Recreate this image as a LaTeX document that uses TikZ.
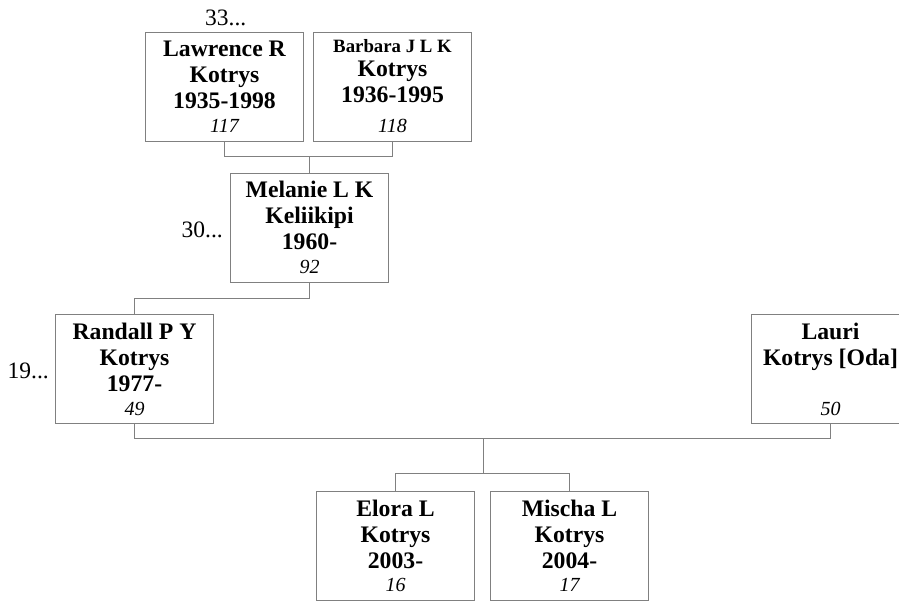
\documentclass[tikz,border=0pt]{standalone}
\usepackage{fontspec}
\setmainfont{Liberation Serif}
\definecolor{linegray}{RGB}{128,128,128}
\tikzset{
  box/.style={draw=linegray, line width=1pt, fill=white, rectangle, inner sep=0pt, minimum width=158pt, minimum height=109pt},
  conn/.style={draw=linegray, line width=1pt},
  nm/.style={inner sep=0pt, anchor=base, font=\bfseries\fontsize{23.7}{26}\selectfont},
  nmsmall/.style={inner sep=0pt, anchor=base, font=\bfseries\fontsize{18.8}{22}\selectfont},
  num/.style={inner sep=0pt, anchor=base, font=\itshape\fontsize{20}{24}\selectfont},
  gen/.style={inner sep=0pt, anchor=base, font=\fontsize{23.5}{26}\selectfont}
}
\begin{document}
\begin{tikzpicture}[x=1pt,y=-1pt]
\useasboundingbox (0,0) rectangle (899,601);
\fill[white] (0,0) rectangle (899,601);

% boxes
\node[box] (law) at (224.5,87) {};
\node[box] (bar) at (392.5,87) {};
\node[box] (mel) at (309.5,228) {};
\node[box] (ran) at (134.5,369) {};
\node[box] (lau) at (830.5,369) {};
\node[box] (elo) at (395.5,546) {};
\node[box] (mis) at (569.5,546) {};

% connectors
\coordinate (c1) at (309.5,156.5);
\coordinate (c2) at (309.5,298.5);
\coordinate (c3) at (483.5,438.5);
\coordinate (c4) at (483.5,473.5);
\draw[conn] (law.south) |- (c1) -| (bar.south);
\draw[conn] (c1) -- (mel.north);
\draw[conn] (mel.south) -- (c2) -| (ran.north);
\draw[conn] (ran.south) |- (c3) -| (lau.south);
\draw[conn] (c3) -- (c4);
\draw[conn] (c4) -| (elo.north);
\draw[conn] (c4) -| (mis.north);

% Lawrence
\node[nm] (law1) at ([yshift=-25pt]law.north) {Lawrence R};
\node[nm] (law2) at ([yshift=-51pt]law.north) {Kotrys};
\node[nm] (law3) at ([yshift=-77pt]law.north) {1935-1998};
\node[num] (law4) at ([yshift=-101pt]law.north) {117};
% Barbara
\node[nmsmall] (bar1) at ([yshift=-21pt]bar.north) {Barbara J L K};
\node[nm] (bar2) at ([yshift=-45pt]bar.north) {Kotrys};
\node[nm] (bar3) at ([yshift=-71pt]bar.north) {1936-1995};
\node[num] (bar4) at ([yshift=-101pt]bar.north) {118};
% Melanie
\node[nm] (mel1) at ([yshift=-25pt]mel.north) {Melanie L K};
\node[nm] (mel2) at ([yshift=-51pt]mel.north) {Keliikipi};
\node[nm] (mel3) at ([yshift=-77pt]mel.north) {1960-};
\node[num] (mel4) at ([yshift=-101pt]mel.north) {92};
% Randall
\node[nm] (ran1) at ([yshift=-25pt]ran.north) {Randall P Y};
\node[nm] (ran2) at ([yshift=-51pt]ran.north) {Kotrys};
\node[nm] (ran3) at ([yshift=-77pt]ran.north) {1977-};
\node[num] (ran4) at ([yshift=-101pt]ran.north) {49};
% Lauri
\node[nm] (lau1) at ([yshift=-25pt]lau.north) {Lauri};
\node[nm] (lau2) at ([yshift=-51pt]lau.north) {Kotrys [Oda]};
\node[num] (lau4) at ([yshift=-101pt]lau.north) {50};
% Elora
\node[nm] (elo1) at ([yshift=-25pt]elo.north) {Elora L};
\node[nm] (elo2) at ([yshift=-51pt]elo.north) {Kotrys};
\node[nm] (elo3) at ([yshift=-77pt]elo.north) {2003-};
\node[num] (elo4) at ([yshift=-100pt]elo.north) {16};
% Mischa
\node[nm] (mis1) at ([yshift=-25pt]mis.north) {Mischa L};
\node[nm] (mis2) at ([yshift=-51pt]mis.north) {Kotrys};
\node[nm] (mis3) at ([yshift=-77pt]mis.north) {2004-};
\node[num] (mis4) at ([yshift=-100pt]mis.north) {17};

% generation markers
\node[gen, anchor=base west] (g33) at (205,26) {33...};
\node[gen, anchor=base east] (g30) at (223,238) {30...};
\node[gen, anchor=base east] (g19) at (49,378) {19...};
\end{tikzpicture}
\end{document}
